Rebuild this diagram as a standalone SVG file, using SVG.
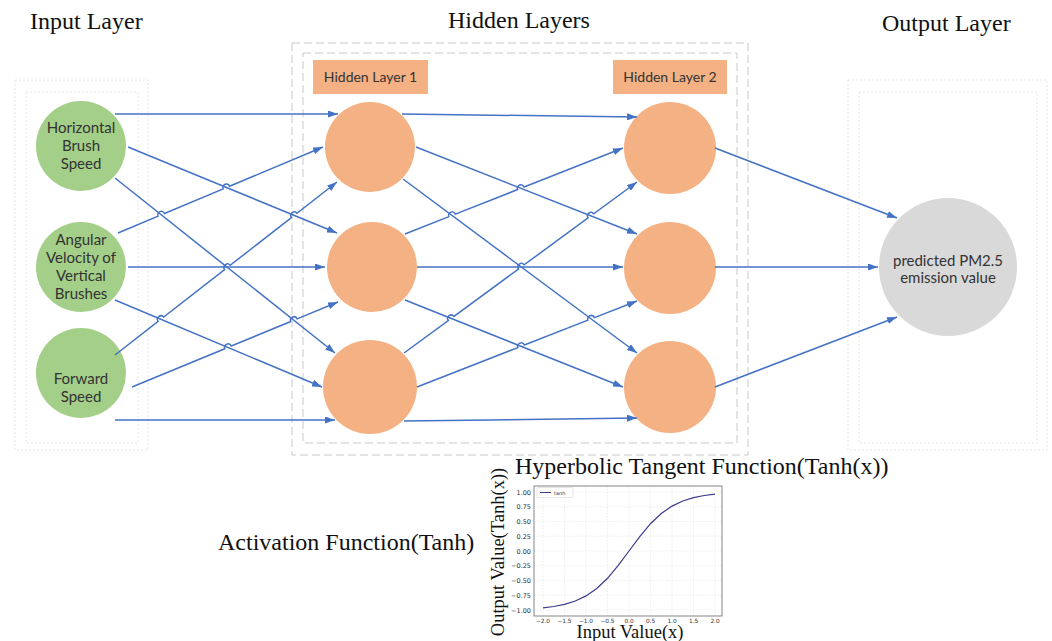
<svg xmlns="http://www.w3.org/2000/svg" width="1052" height="641" viewBox="0 0 1052 641">
<style>
.title{font-family:"Liberation Serif","Times New Roman",serif;font-size:24px;fill:#111}
.lbl{font-family:Lato,"Noto Sans",sans-serif;font-size:15px;fill:#333;text-anchor:middle}
.hl{font-family:Lato,"Noto Sans",sans-serif;font-size:14px;fill:#333;text-anchor:middle}
.in{fill:#a4cf88}
.hid{fill:#f4b183}
.out{fill:#d9d9d9}
.dash{fill:none;stroke:#c9c9c9;stroke-width:1;stroke-dasharray:8 4}
.dot{fill:none;stroke:#e6e6e6;stroke-width:1;stroke-dasharray:2 2}
.c{fill:none;stroke:#4472c4;stroke-width:1.5;marker-end:url(#ah)}
.grid{stroke:#e3e3e3;stroke-width:0.6;stroke-dasharray:1.5 1.5}
.tk{font-family:"DejaVu Sans",sans-serif;font-size:6.5px;fill:#333}
.tx{font-family:"DejaVu Sans",sans-serif;font-size:5.8px;fill:#333}
.ax{font-family:"Liberation Serif","Times New Roman",serif;font-size:18.5px;fill:#111}
</style>
<defs>
<marker id="ah" markerWidth="10" markerHeight="7" refX="10" refY="3.5" orient="auto" markerUnits="userSpaceOnUse">
<path d="M0,0 L10,3.5 L0,7 z" fill="#4472c4"/>
</marker>
</defs>
<rect width="1052" height="641" fill="#fff"/>

<g id="titles">
<text class="title" x="30" y="29">Input Layer</text>
<text class="title" x="448" y="28">Hidden Layers</text>
<text class="title" x="882" y="31">Output Layer</text>
</g>

<g id="layer-boxes">
<rect class="dot" x="15" y="80" width="133" height="370"/>
<rect class="dot" x="26" y="92" width="112" height="351"/>
<rect class="dash" x="292" y="43" width="456" height="412"/>
<rect class="dash" x="303" y="53" width="434" height="390"/>
<rect class="dot" x="848" y="80" width="199" height="370"/>
<rect class="dot" x="859" y="92" width="178" height="351"/>
</g>

<g id="input-1">
<circle class="in" cx="81" cy="146" r="45"/>
<text class="lbl" x="81" y="133">Horizontal</text>
<text class="lbl" x="81" y="151">Brush</text>
<text class="lbl" x="81" y="169">Speed</text>
</g>
<g id="input-2">
<circle class="in" cx="81" cy="267" r="45"/>
<text class="lbl" x="81" y="245">Angular</text>
<text class="lbl" x="81" y="263">Velocity of</text>
<text class="lbl" x="81" y="281">Vertical</text>
<text class="lbl" x="81" y="299">Brushes</text>
</g>
<g id="input-3">
<circle class="in" cx="81" cy="373" r="45"/>
<text class="lbl" x="81" y="384">Forward</text>
<text class="lbl" x="81" y="402">Speed</text>
</g>

<g id="hidden-label-1">
<rect class="hid" x="313" y="60" width="115" height="34"/>
<text class="hl" x="370.5" y="82">Hidden Layer 1</text>
</g>
<g id="hidden-label-2">
<rect class="hid" x="613" y="60" width="114" height="34"/>
<text class="hl" x="670" y="82">Hidden Layer 2</text>
</g>

<g id="h1-1"><circle class="hid" cx="370" cy="147" r="45"/></g>
<g id="h1-2"><circle class="hid" cx="372" cy="267" r="45"/></g>
<g id="h1-3"><circle class="hid" cx="370" cy="387" r="47"/></g>
<g id="h2-1"><circle class="hid" cx="670" cy="148" r="46"/></g>
<g id="h2-2"><circle class="hid" cx="670" cy="268" r="46"/></g>
<g id="h2-3"><circle class="hid" cx="670" cy="387" r="46"/></g>

<g id="output">
<circle class="out" cx="948" cy="267" r="69"/>
<text class="lbl" x="948" y="266">predicted PM2.5</text>
<text class="lbl" x="948" y="283">emission value</text>
</g>

<g id="connectors">
<path class="c" d="M115,114 L338,114"/>
<path class="c" d="M128,147 L337,233"/>
<path class="c" d="M115,178 L335,353"/>
<path class="c" d="M118,233 L158.07,216.19 A3.5,3.5 0 0 1 164.53,213.49 L223.17,188.88 A3.5,3.5 0 0 1 229.63,186.18 L323,147"/>
<path class="c" d="M128,267 L325,267"/>
<path class="c" d="M115,300 L322,387"/>
<path class="c" d="M115,355 L158.14,321.38 A3.5,3.5 0 0 1 163.66,317.08 L224.64,269.59 A3.5,3.5 0 0 1 230.16,265.29 L291.44,217.55 A3.5,3.5 0 0 1 296.96,213.25 L337,182"/>
<path class="c" d="M132,387 L224.77,348.73 A3.5,3.5 0 0 1 231.24,346.06 L290.67,321.54 A3.5,3.5 0 0 1 297.14,318.87 L338,302"/>
<path class="c" d="M115,420 L335,420"/>

<path class="c" d="M402,114 L637,117"/>
<path class="c" d="M416,147 L637,234"/>
<path class="c" d="M403,179 L637,353"/>
<path class="c" d="M405,234 L448.84,216.70 A3.5,3.5 0 0 1 455.36,214.14 L517.64,189.56 A3.5,3.5 0 0 1 524.16,187.0 L623,148"/>
<path class="c" d="M417,267 L623,267"/>
<path class="c" d="M405,300 L623,387"/>
<path class="c" d="M404,353 L448.28,320.50 A3.5,3.5 0 0 1 453.92,316.36 L518.48,268.98 A3.5,3.5 0 0 1 524.12,264.84 L588.08,217.90 A3.5,3.5 0 0 1 593.72,213.76 L637,182"/>
<path class="c" d="M417,387 L517.84,347.58 A3.5,3.5 0 0 1 524.36,345.04 L587.94,320.17 A3.5,3.5 0 0 1 594.46,317.63 L637,301"/>
<path class="c" d="M404,421 L637,418"/>

<path class="c" d="M715,148 L897,218"/>
<path class="c" d="M715,267 L878,267"/>
<path class="c" d="M715,387 L897,317"/>
</g>

<g id="activation">
<text class="title" x="515" y="474">Hyperbolic Tangent Function(Tanh(x))</text>
<text class="title" x="218" y="550">Activation Function(Tanh)</text>
<g id="chart-grid">
<line class="grid" x1="543" y1="486" x2="543" y2="616"/>
<line class="grid" x1="564.5" y1="486" x2="564.5" y2="616"/>
<line class="grid" x1="586" y1="486" x2="586" y2="616"/>
<line class="grid" x1="607.5" y1="486" x2="607.5" y2="616"/>
<line class="grid" x1="629" y1="486" x2="629" y2="616"/>
<line class="grid" x1="650.5" y1="486" x2="650.5" y2="616"/>
<line class="grid" x1="672" y1="486" x2="672" y2="616"/>
<line class="grid" x1="693.5" y1="486" x2="693.5" y2="616"/>
<line class="grid" x1="715" y1="486" x2="715" y2="616"/>
<line class="grid" x1="534" y1="492" x2="722" y2="492"/>
<line class="grid" x1="534" y1="506.75" x2="722" y2="506.75"/>
<line class="grid" x1="534" y1="521.5" x2="722" y2="521.5"/>
<line class="grid" x1="534" y1="536.25" x2="722" y2="536.25"/>
<line class="grid" x1="534" y1="551" x2="722" y2="551"/>
<line class="grid" x1="534" y1="565.75" x2="722" y2="565.75"/>
<line class="grid" x1="534" y1="580.5" x2="722" y2="580.5"/>
<line class="grid" x1="534" y1="595.25" x2="722" y2="595.25"/>
<line class="grid" x1="534" y1="610" x2="722" y2="610"/>
</g>
<rect x="534" y="486" width="188" height="130" fill="none" stroke="#666" stroke-width="0.8"/>
<polyline fill="none" stroke="#3b3b8c" stroke-width="1.2" points="543,607.9 553.75,606.5 564.5,604.4 575.25,601.0 586,595.9 596.75,588.5 607.5,578.3 618.25,565.4 629,551 639.75,536.6 650.5,523.7 661.25,513.5 672,506.1 682.75,501.0 693.5,497.6 704.25,495.5 715,494.1"/>
<g id="legend">
<rect x="537" y="487.5" width="36" height="10" fill="#fff" stroke="#ccc" stroke-width="0.5" rx="1"/>
<line x1="540" y1="492.5" x2="551" y2="492.5" stroke="#3b3b8c" stroke-width="1"/>
<text class="tk" x="554" y="494.5" style="font-size:5px">tanh</text>
</g>
<g id="yticks" text-anchor="end">
<text class="tk" x="531" y="494.5">1.00</text>
<text class="tk" x="531" y="509.25">0.75</text>
<text class="tk" x="531" y="524">0.50</text>
<text class="tk" x="531" y="538.75">0.25</text>
<text class="tk" x="531" y="553.5">0.00</text>
<text class="tk" x="531" y="568.25">−0.25</text>
<text class="tk" x="531" y="583">−0.50</text>
<text class="tk" x="531" y="597.75">−0.75</text>
<text class="tk" x="531" y="612.5">−1.00</text>
</g>
<g id="xticks" text-anchor="middle">
<text class="tx" x="543" y="623">−2.0</text>
<text class="tx" x="564.5" y="623">−1.5</text>
<text class="tx" x="586" y="623">−1.0</text>
<text class="tx" x="607.5" y="623">−0.5</text>
<text class="tx" x="629" y="623">0.0</text>
<text class="tx" x="650.5" y="623">0.5</text>
<text class="tx" x="672" y="623">1.0</text>
<text class="tx" x="693.5" y="623">1.5</text>
<text class="tx" x="715" y="623">2.0</text>
</g>
<text class="ax" x="630" y="638" text-anchor="middle">Input Value(x)</text>
<text class="ax" transform="translate(504,552) rotate(-90)" text-anchor="middle">Output Value(Tanh(x))</text>
</g>
</svg>
